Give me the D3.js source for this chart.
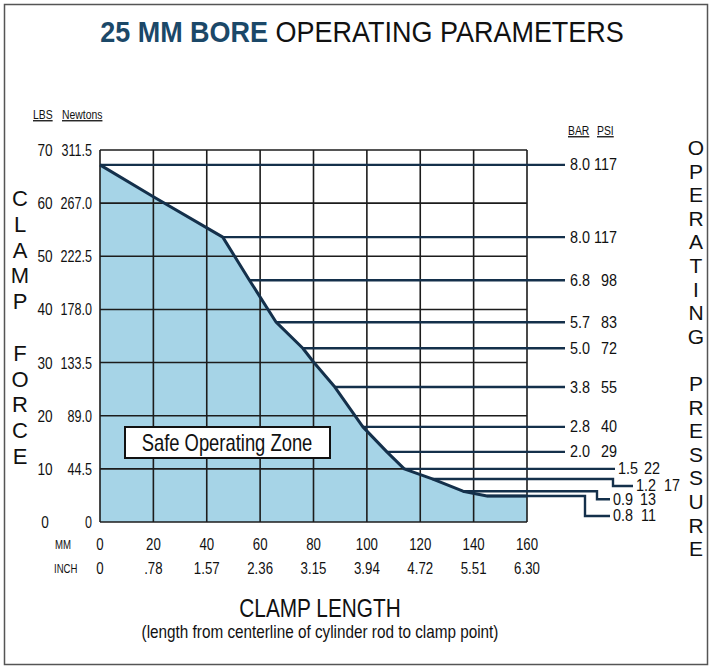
<!DOCTYPE html>
<html>
<head>
<meta charset="utf-8">
<script src="https://cdn.jsdelivr.net/npm/d3@7"></script>
<style>
  body { margin: 0; background: #fff; }
  svg { display: block; }
</style>
</head>
<body>
<div id="chart"></div>
<script>
// clamp length axis
const mmTicks = [0, 20, 40, 60, 80, 100, 120, 140, 160];
const inchLabels = ["0", ".78", "1.57", "2.36", "3.15", "3.94", "4.72", "5.51", "6.30"];

// clamp force axis
const lbsTicks = [0, 10, 20, 30, 40, 50, 60, 70];
const newtonLabels = ["0", "44.5", "89.0", "133.5", "178.0", "222.5", "267.0", "311.5"];

// max clamp force curve
const curveMm = [0, 20, 46, 56, 66, 76, 80, 88, 98.5, 107.5, 114, 124.5, 136, 145, 160];
const curveLbs = [67.2, 61.2, 53.6, 45.5, 37.6, 32.7, 30.1, 25.4, 17.9, 13.2, 10.0, 8.1, 5.8, 4.9, 4.9];

// operating pressure levels
const pressureBar = ["8.0", "8.0", "6.8", "5.7", "5.0", "3.8", "2.8", "2.0", "1.5", "1.2", "0.9", "0.8"];
const pressurePsi = ["117", "117", "98", "83", "72", "55", "40", "29", "22", "17", "13", "11"];
const pressureLbs = [67.2, 53.6, 45.5, 37.6, 32.7, 25.4, 17.9, 13.2, 10.0, 8.1, 5.8, 4.9];
const pressureMm = [0, 46, 56, 66, 76, 88, 98.5, 107.5, 114, 124.5, 136, 145];

const W = 712, H = 669;
const font = "'Liberation Sans', Arial, Helvetica, sans-serif";
const navy = "#14304b";
const fillBlue = "#a6d4e7";

const svg = d3.select("#chart").append("svg")
    .attr("width", W)
    .attr("height", H)
    .style("font-family", font);

svg.append("rect")
    .attr("x", 4.5).attr("y", 4.5)
    .attr("width", W - 9).attr("height", H - 9)
    .attr("fill", "none")
    .attr("stroke", "#555")
    .attr("stroke-width", 1.5);

const x = d3.scaleLinear().domain([0, 160]).range([100, 527]);
const y = d3.scaleLinear().domain([0, 70]).range([522, 150]);

// text helper: condensed text placed with a transform
function cond(sel, fx, fy, size, sq) {
    return sel
        .attr("transform", (d, i) => `translate(${fx(d, i)},${fy(d, i)}) scale(${sq},1)`)
        .style("font-size", size + "px")
        .attr("fill", "#111");
}

// title
const title = svg.append("text")
    .attr("transform", "translate(362,42) scale(0.9,1)")
    .attr("text-anchor", "middle")
    .style("font-size", "30px");
title.append("tspan").attr("fill", "#1b4868").style("font-weight", "bold").text("25 MM BORE ");
title.append("tspan").attr("fill", "#111").text("OPERATING PARAMETERS");

// safe zone fill under the curve
const pts = curveMm.map((m, i) => [m, curveLbs[i]]);
svg.append("path")
    .datum(pts)
    .attr("d", d3.area().x(d => x(d[0])).y0(y(0)).y1(d => y(d[1])))
    .attr("fill", fillBlue);

// grid
const grid = svg.append("g").attr("stroke", "#1c1c1c").attr("stroke-width", 1.6);
grid.selectAll(".vline")
    .data(mmTicks)
    .enter().append("line")
    .attr("x1", d => x(d)).attr("x2", d => x(d))
    .attr("y1", y(0)).attr("y2", y(70));
grid.selectAll(".hline")
    .data(lbsTicks)
    .enter().append("line")
    .attr("x1", x(0)).attr("x2", x(160))
    .attr("y1", d => y(d)).attr("y2", d => y(d));

// pressure leader lines, label placement per line
const xr = x(160);
const leaders = pressureBar.map((b, i) => {
    let o = { stepX: null, drop: 0, endX: xr + 38, labelX: xr + 43, psiX: xr + 90 };
    if (i === 8) o = { stepX: null, drop: 0, endX: xr + 88, labelX: xr + 91, psiX: xr + 133 };
    if (i === 9) o = { stepX: xr + 86, drop: 7, endX: xr + 106, labelX: xr + 109, psiX: xr + 153 };
    if (i === 10) o = { stepX: xr + 70, drop: 8, endX: xr + 83, labelX: xr + 86, psiX: xr + 129 };
    if (i === 11) o = { stepX: xr + 58, drop: 20, endX: xr + 83, labelX: xr + 86, psiX: xr + 129 };
    return Object.assign(o, { bar: b, psi: pressurePsi[i], lbs: pressureLbs[i], mm: pressureMm[i] });
});

svg.append("g")
    .selectAll("path")
    .data(leaders)
    .enter().append("path")
    .attr("fill", "none")
    .attr("stroke", navy)
    .attr("stroke-width", 2.4)
    .attr("d", d => {
        const y0 = y(d.lbs);
        if (d.stepX === null) return `M${x(d.mm)},${y0}H${d.endX}`;
        return `M${x(d.mm)},${y0}H${d.stepX}V${y0 + d.drop}H${d.endX}`;
    });

const lab = svg.append("g");
cond(lab.selectAll(".bar").data(leaders).enter().append("text"),
    d => d.labelX, d => y(d.lbs) + d.drop + 5.5, 16, 0.9)
    .text(d => d.bar);
cond(lab.selectAll(".psi").data(leaders).enter().append("text"),
    d => d.psiX, d => y(d.lbs) + d.drop + 5.5, 16, 0.9)
    .attr("text-anchor", "end")
    .text(d => d.psi);

// the curve
svg.append("path")
    .datum(pts)
    .attr("d", d3.line().x(d => x(d[0])).y(d => y(d[1])))
    .attr("fill", "none")
    .attr("stroke", navy)
    .attr("stroke-width", 3)
    .attr("stroke-linejoin", "round");

// safe operating zone label
svg.append("rect")
    .attr("x", 125).attr("y", 427)
    .attr("width", 205).attr("height", 31)
    .attr("fill", "#fff")
    .attr("stroke", "#111")
    .attr("stroke-width", 2);
cond(svg.append("text"), () => 227, () => 450.5, 23, 0.8)
    .attr("text-anchor", "middle")
    .text("Safe Operating Zone");

// y axis labels
const yl = svg.append("g");
cond(yl.selectAll(".lbs").data(lbsTicks).enter().append("text"),
    () => 45, d => y(d) + 6, 17, 0.8)
    .attr("text-anchor", "middle")
    .text(d => d);
cond(yl.selectAll(".nw").data(newtonLabels).enter().append("text"),
    () => 92, (d, i) => y(lbsTicks[i]) + 6, 17, 0.74)
    .attr("text-anchor", "end")
    .text(d => d);

const heads = [["LBS", 33, 119], ["Newtons", 62, 119], ["BAR", 568, 135], ["PSI", 597, 135]];
cond(svg.append("g").selectAll("text").data(heads).enter().append("text"),
    d => d[1], d => d[2], 13, 0.8)
    .style("text-decoration", "underline")
    .text(d => d[0]);

// x axis labels
const xl = svg.append("g");
cond(xl.selectAll(".mm").data(mmTicks).enter().append("text"),
    d => x(d), () => 550, 17, 0.78)
    .attr("text-anchor", "middle")
    .text(d => d);
cond(xl.selectAll(".inch").data(inchLabels).enter().append("text"),
    (d, i) => x(mmTicks[i]), () => 574, 17, 0.78)
    .attr("text-anchor", "middle")
    .text(d => d);
cond(xl.append("text"), () => 55, () => 549, 12, 0.8).text("MM");
cond(xl.append("text"), () => 54, () => 573, 12, 0.8).text("INCH");

cond(svg.append("text"), () => 320, () => 617, 26, 0.8)
    .attr("text-anchor", "middle")
    .text("CLAMP LENGTH");
cond(svg.append("text"), () => 320, () => 638, 18, 0.85)
    .attr("text-anchor", "middle")
    .text("(length from centerline of cylinder rod to clamp point)");

// stacked side titles
function stacked(word, cx, top, step, size) {
    svg.append("g")
        .selectAll("text")
        .data(word.split(""))
        .enter().append("text")
        .attr("x", cx)
        .attr("y", (d, i) => top + i * step)
        .attr("text-anchor", "middle")
        .style("font-size", size + "px")
        .attr("fill", "#111")
        .text(d => d);
}
stacked("CLAMP FORCE", 20, 206, 25.8, 22);
stacked("OPERATING PRESSURE", 696, 155, 23.6, 21);
</script>
</body>
</html>
